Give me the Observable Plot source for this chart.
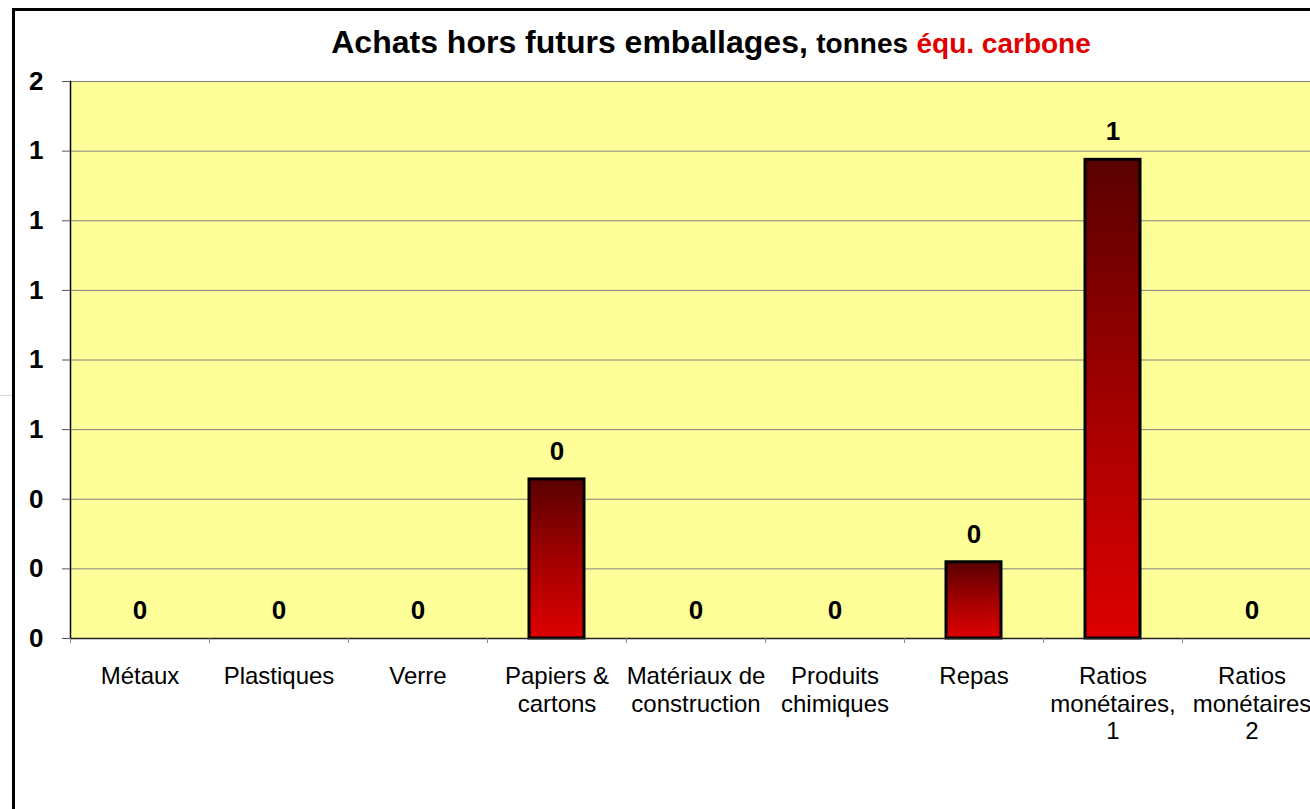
<!DOCTYPE html>
<html>
<head>
<meta charset="utf-8">
<script src="https://cdn.jsdelivr.net/npm/d3@7"></script>
<script src="https://cdn.jsdelivr.net/npm/@observablehq/plot@0.6"></script>
<style>
  html, body { margin: 0; padding: 0; background: #fff; overflow: hidden; }
  #wrap { position: relative; width: 1310px; height: 809px; overflow: hidden; background: #fff;
          font-family: "Liberation Sans", Arial, sans-serif; }
  #border { position: absolute; left: 12px; top: 8px; width: 1400px; height: 900px;
            border: 3.5px solid #000; box-sizing: border-box; }
  #stray { position: absolute; left: 0; top: 395px; width: 12px; height: 1px; background: #d8d8d8; }
  #title { position: absolute; left: 0; top: 26px; width: 1422px; text-align: center;
           line-height: 32px; white-space: nowrap; font-weight: bold; color: #000; }
  #title .main { font-size: 32px; }
  #title .unit { font-size: 28px; margin-left: 4px; }
  #title .red { color: #e00000; }
  #chart { position: absolute; left: 0; top: 0; }
</style>
</head>
<body>
<div id="wrap">
  <div id="border"></div>
  <div id="stray"></div>
  <div id="title"><span class="main">Achats hors futurs emballages,</span> <span class="unit">tonnes</span> <span class="unit red">équ. carbone</span></div>
  <div id="chart"></div>
</div>
<script>
// Data
const categories = [
  "Métaux",
  "Plastiques",
  "Verre",
  "Papiers &\ncartons",
  "Matériaux de\nconstruction",
  "Produits\nchimiques",
  "Repas",
  "Ratios\nmonétaires,\n1",
  "Ratios\nmonétaires\n2"
];
const values = [0, 0, 0, 0.457, 0, 0, 0.219, 1.375, 0];
const yTicks = [0, 0.2, 0.4, 0.6, 0.8, 1.0, 1.2, 1.4, 1.6];

const data = categories.map((c, i) => ({category: c, value: values[i]}));
const fmt = d3.format(".0f");

const gradientDefs = () => {
  const ns = "http://www.w3.org/2000/svg";
  const defs = document.createElementNS(ns, "defs");
  const g = document.createElementNS(ns, "linearGradient");
  g.setAttribute("id", "barGrad");
  g.setAttribute("x1", "0"); g.setAttribute("y1", "0");
  g.setAttribute("x2", "0"); g.setAttribute("y2", "1");
  [["0%", "#5a0000"], ["55%", "#a80000"], ["100%", "#de0000"]].forEach(([o, c]) => {
    const s = document.createElementNS(ns, "stop");
    s.setAttribute("offset", o);
    s.setAttribute("stop-color", c);
    g.appendChild(s);
  });
  defs.appendChild(g);
  return defs;
};

const chart = Plot.plot({
  width: 1321,
  height: 809,
  marginTop: 81,
  marginBottom: 171,
  marginLeft: 70,
  marginRight: 0,
  style: {background: "transparent", overflow: "visible", fontFamily: "'Liberation Sans', Arial, sans-serif", color: "#000"},
  x: {domain: categories, padding: 0, label: null},
  y: {domain: [0, 1.6], label: null},
  marks: [
    gradientDefs,
    Plot.frame({fill: "#ffff99", stroke: null}),
    Plot.gridY(yTicks.slice(1), {stroke: "#808080", strokeOpacity: 1, strokeWidth: 1}),
    Plot.barY(data, {x: "category", y: "value", fill: "url(#barGrad)", stroke: "#000", strokeWidth: 3, insetLeft: 42, insetRight: 42}),
    Plot.ruleY([0], {stroke: "#222", strokeWidth: 1.5}),
    Plot.frame({anchor: "left", stroke: "#000", strokeWidth: 1.5}),
    Plot.text(data, {x: "category", y: "value", text: d => fmt(d.value), dy: -28, fontSize: 26, fontWeight: "bold", fill: "#000", stroke: "#ffff99", strokeWidth: 12}),
    Plot.axisY({ticks: yTicks, tickFormat: fmt, tickSize: 8, tickPadding: 19, fontSize: 26, fontWeight: "bold", stroke: "#555", fill: "#000"}),
    Plot.axisX({tickSize: 0, tickPadding: 26, fontSize: 24, lineHeight: 1.15, fill: "#000"}),
    Plot.axisX({tickSize: 5, tickFormat: () => "", dx: -69.5, stroke: "#888"})
  ]
});
chart.style.maxWidth = "none";
document.getElementById("chart").appendChild(chart);
</script>
</body>
</html>
